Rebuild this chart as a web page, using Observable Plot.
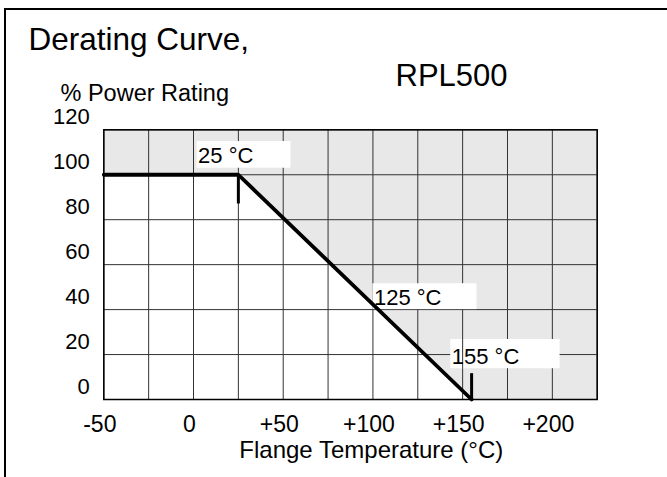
<!DOCTYPE html>
<html><head><meta charset="utf-8">
<script src="https://cdn.jsdelivr.net/npm/d3@7"></script>
<script src="https://cdn.jsdelivr.net/npm/@observablehq/plot@0.6"></script>
<style>
html,body{margin:0;padding:0;background:#fff;width:667px;height:477px;overflow:hidden;}
#wrap{position:relative;width:667px;height:477px;}
#chart{position:absolute;left:0;top:0;}
#border{position:absolute;left:4px;top:8px;width:800px;height:600px;border-left:2px solid #000;border-top:2px solid #000;pointer-events:none;}
</style></head>
<body><div id="wrap"><div id="chart"></div><div id="border"></div></div>
<script>
// ---- data ----
const curveTemp = [-50, 25, 155];
const curvePower = [100, 100, 0];
const shadeTemp = [-50, 25, 155, 225];
const shadePower = [100, 100, 0, 0];
const gridTemp = [-50, -25, 0, 25, 50, 75, 100, 125, 150, 175, 200, 225];
const gridPower = [0, 20, 40, 60, 80, 100, 120];
const xTickValues = [-50, 0, 50, 100, 150, 200];
const xTickLabels = ["-50", "0", "+50", "+100", "+150", "+200"];
const yTickValues = [0, 20, 40, 60, 80, 100, 120];
const yTickLabels = ["0", "20", "40", "60", "80", "100", "120"];
const markTemp = [25, 155];
const markFrom = [100, 0];
const markTo = [87, 11.5];
const noteText = ["25 °C", "125 °C", "155 °C"];
const noteTempFrom = [2, 100, 143.4];
const noteTempTo = [54.3, 158, 204.3];
const notePowerTop = [114.8, 51.5, 26.7];
const notePowerBottom = [102.9, 40, 13.7];
const titleText = "Derating Curve,";
const modelText = "RPL500";
const yLabelText = "% Power Rating";
const xLabelText = "Flange Temperature (°C)";

// ---- tables ----
const curve = curveTemp.map((t, i) => ({t, p: curvePower[i]}));
const shade = shadeTemp.map((t, i) => ({t, p: shadePower[i]}));
const marks = markTemp.map((t, i) => ({t, a: markFrom[i], b: markTo[i]}));
const notes = noteText.map((s, i) => ({s, x1: noteTempFrom[i], x2: noteTempTo[i], top: notePowerTop[i], bottom: notePowerBottom[i]}));
const xFmt = d => xTickLabels[xTickValues.indexOf(d)];
const yFmt = d => yTickLabels[yTickValues.indexOf(d)];

const font = "'Liberation Sans', Arial, Helvetica, sans-serif";

const chart = Plot.plot({
  width: 667,
  height: 477,
  marginLeft: 103.3,
  marginRight: 70.3,
  marginTop: 129.3,
  marginBottom: 78,
  style: {fontFamily: font, fontSize: "22px", background: "transparent", color: "black"},
  x: {domain: [-50, 225], label: null},
  y: {domain: [0, 120], label: null},
  marks: [
    Plot.areaY(shade, {x: "t", y1: "p", y2: 120, fill: "#e8e8e8"}),
    Plot.ruleY(gridPower, {y: d => d, stroke: "#333", strokeWidth: 1}),
    Plot.ruleX(gridTemp, {x: d => d, stroke: "#333", strokeWidth: 1}),
    Plot.rect(notes, {x1: "x1", x2: "x2", y1: "bottom", y2: "top", fill: "white"}),
    Plot.ruleX(notes.slice(2), {x: () => 150, y1: "bottom", y2: "top", stroke: "#333", strokeWidth: 1}),
    Plot.line(curve, {x: "t", y: "p", stroke: "black", strokeWidth: 3.8, strokeLinejoin: "miter"}),
    Plot.ruleX(marks, {x: "t", y1: "a", y2: "b", stroke: "black", strokeWidth: 3}),
    Plot.text(notes, {x: "x1", y: "bottom", text: "s", textAnchor: "start", lineAnchor: "bottom", dx: 1, dy: -5, fontSize: 22, fill: "black"}),
    Plot.frame({stroke: "black", strokeWidth: 1.5}),
    Plot.axisX({ticks: xTickValues, tickFormat: xFmt, tickSize: 0, tickPadding: 16, dx: -4, fontSize: 23, label: null}),
    Plot.axisY({ticks: yTickValues, tickFormat: yFmt, tickSize: 0, tickPadding: 14, dy: -13, fontSize: 22, label: null}),
    Plot.text([titleText], {frameAnchor: "top-left", text: d => d, textAnchor: "start", lineAnchor: "bottom", dx: -75.3, dy: -80, fontSize: 31.5, fill: "black"}),
    Plot.text([modelText], {frameAnchor: "top-left", text: d => d, textAnchor: "start", lineAnchor: "bottom", dx: 291.7, dy: -43.6, fontSize: 31, fill: "black"}),
    Plot.text([yLabelText], {frameAnchor: "top-left", text: d => d, textAnchor: "start", lineAnchor: "bottom", dx: -43.3, dy: -29.3, fontSize: 23.5, fill: "black"}),
    Plot.text([xLabelText], {frameAnchor: "bottom", text: d => d, textAnchor: "middle", lineAnchor: "bottom", dx: 20.8, dy: 58.3, fontSize: 24, fill: "black"})
  ]
});
document.getElementById("chart").appendChild(chart);
</script>
</body></html>
